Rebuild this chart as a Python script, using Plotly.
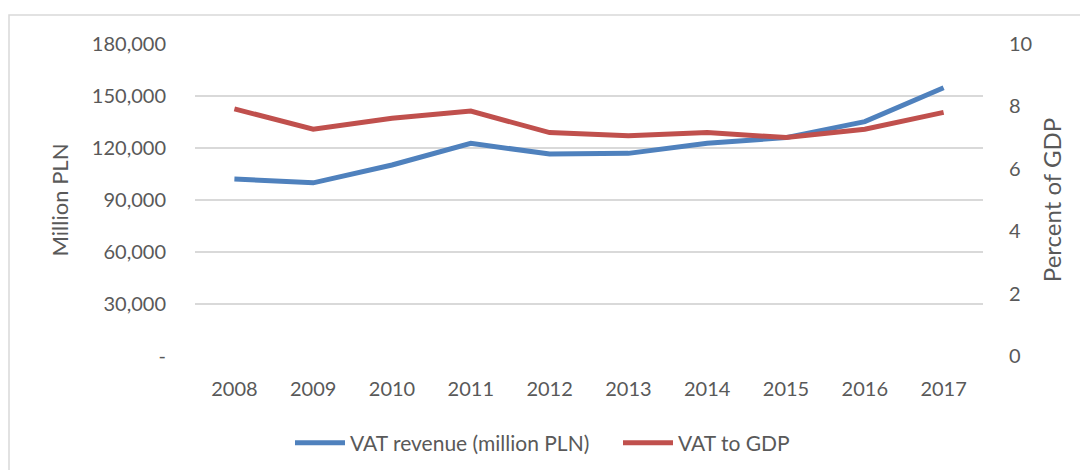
import plotly.graph_objects as go

years = ["2008", "2009", "2010", "2011", "2012", "2013", "2014", "2015", "2016", "2017"]
vat_revenue = [102100, 99900, 110200, 122700, 116500, 116900, 122700, 126000, 135200, 154800]
vat_to_gdp = [7.92, 7.27, 7.62, 7.85, 7.16, 7.06, 7.16, 7.00, 7.27, 7.81]

left_tickvals = [0, 30000, 60000, 90000, 120000, 150000, 180000]
left_ticktext = ["-", "30,000", "60,000", "90,000", "120,000", "150,000", "180,000"]
right_tickvals = [0, 2, 4, 6, 8, 10]

W, H = 1088, 470
OFF = 8  # page body margin
L, R, T, B = 195 - OFF, 105 + OFF, 44 - OFF, 114 + OFF
pw, ph = W - L - R, H - T - B

font_family = "Lato, 'Open Sans', sans-serif"
txt = "#595959"
grid = "#D9D9D9"

fig = go.Figure()
fig.add_trace(go.Scatter(x=years, y=vat_revenue, mode="lines", name="VAT revenue (million PLN)",
                         line=dict(color="#4F81BD", width=5), yaxis="y", legend="legend"))
fig.add_trace(go.Scatter(x=years, y=vat_to_gdp, mode="lines", name="VAT to GDP",
                         line=dict(color="#C0504D", width=5), yaxis="y2", legend="legend2"))

fig.update_layout(
    width=W, height=H,
    margin=dict(l=L, r=R, t=T, b=B),
    paper_bgcolor="white", plot_bgcolor="white",
    font=dict(family=font_family, size=20, color=txt),
    xaxis=dict(type="category", range=[-0.5, len(years) - 0.5], showgrid=False, showline=False,
               zeroline=False, automargin=False,
               ticks="outside", ticklen=15, tickcolor="rgba(0,0,0,0)",
               tickfont=dict(size=20, color=txt)),
    yaxis=dict(range=[0, 180000], tickvals=left_tickvals, ticktext=left_ticktext,
               showgrid=True, gridcolor=grid, gridwidth=1.5, zeroline=False, showline=False,
               automargin=False,
               ticks="outside", ticklen=24, tickcolor="rgba(0,0,0,0)",
               tickfont=dict(size=20, color=txt),
               title=dict(text="Million PLN", font=dict(size=22, color=txt), standoff=17)),
    yaxis2=dict(range=[0, 10], tickvals=right_tickvals, overlaying="y", side="right",
                showgrid=False, zeroline=False, showline=False, automargin=False,
                ticks="outside", ticklen=21, tickcolor="rgba(0,0,0,0)",
                tickfont=dict(size=20, color=txt),
                title=dict(text="Percent of GDP", font=dict(size=24, color=txt), standoff=12)),
    legend=dict(orientation="h", x=(290 - OFF - L) / pw, xanchor="left", y=-87 / ph, yanchor="middle",
                font=dict(size=21, color=txt), itemwidth=50, bgcolor="rgba(0,0,0,0)"),
    legend2=dict(orientation="h", x=(618 - OFF - L) / pw, xanchor="left", y=-87 / ph, yanchor="middle",
                 font=dict(size=21, color=txt), itemwidth=50, bgcolor="rgba(0,0,0,0)"),
    showlegend=True,
)

# chart area border
fig.add_shape(type="rect", xref="paper", yref="paper",
              x0=(1 - L) / pw, x1=(W + 5 - L) / pw,
              y0=-(H + 5 - T - ph) / ph, y1=(H - 7 - B) / ph,
              line=dict(color=grid, width=1.5), fillcolor="rgba(0,0,0,0)", layer="below")

fig.write_html("out.html")
